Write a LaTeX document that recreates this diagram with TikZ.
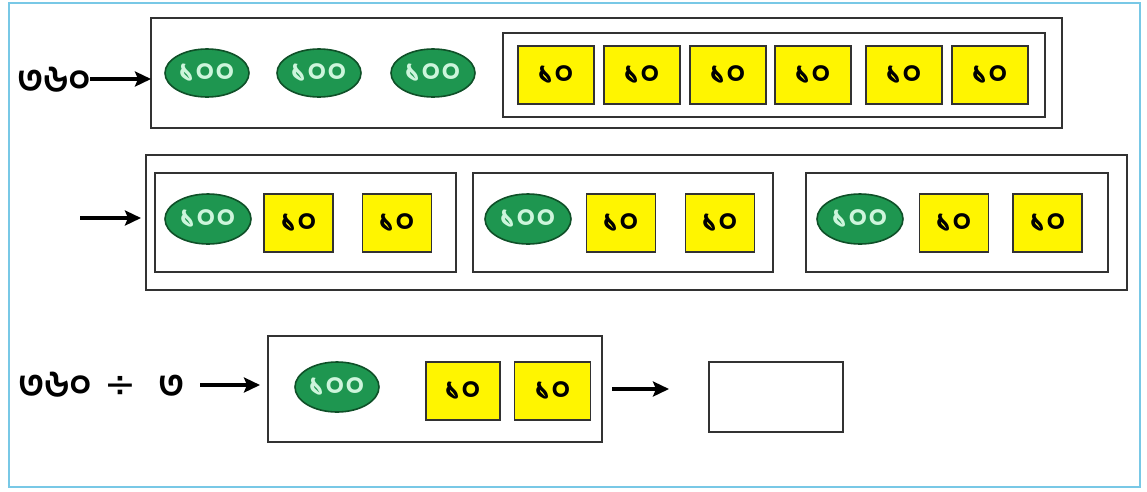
\documentclass[tikz,border=0pt]{standalone}
\usepackage{fontspec}
\newfontfamily\bn[Script=Bengali]{Hind Siliguri}
\newfontfamily\djv{DejaVu Sans}
\usetikzlibrary{arrows.meta,shapes.geometric}
\definecolor{frameblue}{RGB}{120,200,230}
\definecolor{coin}{RGB}{30,150,80}
\definecolor{coinedge}{RGB}{15,80,40}
\definecolor{cointext}{RGB}{205,245,220}
\definecolor{note}{RGB}{255,245,0}
\definecolor{boxline}{RGB}{50,50,50}
\tikzset{
  hundred/.style={ellipse, draw=coinedge, fill=coin, line width=1.6pt, minimum width=84pt, minimum height=48pt, inner sep=0pt, text=cointext, font=\bn\bfseries\fontsize{33}{34}\selectfont},
  ten/.style={rectangle, draw=boxline, fill=note, line width=1.6pt, minimum width=#1, minimum height=58pt, inner sep=0pt, font=\bn\bfseries\fontsize{33}{34}\selectfont},
  ten/.default=69pt,
  frame/.style={rectangle, draw=boxline, line width=1.8pt, inner sep=0pt, outer sep=0pt},
  lab/.style={inner sep=0pt, font=\bn\bfseries\fontsize{38}{40}\selectfont},
  arr/.style={-{Stealth[length=16pt,width=15pt,inset=3pt]}, line width=3.6pt},
}
\begin{document}
\begin{tikzpicture}[x=1pt,y=-1pt]
\useasboundingbox (0,0) rectangle (1147,491);
\draw[frameblue, line width=2.2pt] (9,3) rectangle (1140,487);
% row 1
\node[frame, minimum width=911pt, minimum height=110pt] (b1) at (606.5,73) {};
\node[frame, minimum width=542pt, minimum height=84pt] (i1) at (774,75) {};
\node[hundred] (h11) at (207,73) {১০০};
\node[hundred] (h12) at (319,73) {১০০};
\node[hundred] (h13) at (433,73) {১০০};
\node[ten=76pt] (t11) at (556,75) {১০};
\node[ten=76pt] (t12) at (642,75) {১০};
\node[ten=76pt] (t13) at (728,75) {১০};
\node[ten=76pt] (t14) at (813,75) {১০};
\node[ten=76pt] (t15) at (904,75) {১০};
\node[ten=76pt] (t16) at (990,75) {১০};
\node[lab, anchor=west] (l1) at (17,80) {৩৬০};
\coordinate (s1) at (90,79);
\draw[arr] (s1) -- (b1.west |- s1);
% row 2
\node[frame, minimum width=981pt, minimum height=135pt] (b2) at (636.5,222.5) {};
\node[frame, minimum width=301pt, minimum height=99pt] (g1) at (305.5,222.5) {};
\node[frame, minimum width=300pt, minimum height=99pt] (g2) at (623,222.5) {};
\node[frame, minimum width=302pt, minimum height=99pt] (g3) at (957,222.5) {};
\node[hundred, minimum width=86pt, minimum height=50pt] (h21) at (208,219) {১০০};
\node[ten] (t21) at (298.5,223) {১০};
\node[ten] (t22) at (397,223) {১০};
\node[hundred, minimum width=86pt, minimum height=50pt] (h22) at (528,219) {১০০};
\node[ten] (t23) at (621,223) {১০};
\node[ten] (t24) at (720,223) {১০};
\node[hundred, minimum width=86pt, minimum height=50pt] (h23) at (860,219) {১০০};
\node[ten] (t25) at (954,223) {১০};
\node[ten] (t26) at (1047.5,223) {১০};
\coordinate (s2) at (80,218);
\draw[arr, shorten >=5pt] (s2) -- (b2.west |- s2);
% row 3
\node[lab, anchor=west] (l3) at (18,385) {৩৬০\hspace{12pt}{\djv\mdseries ÷}\hspace{22pt}৩};
\node[frame, minimum width=334pt, minimum height=106pt] (b3) at (435,389) {};
\node[hundred, minimum width=84pt, minimum height=50pt] (h31) at (337,387) {১০০};
\node[ten=74pt] (t31) at (463,391) {১০};
\node[ten=76pt] (t32) at (552.5,391) {১০};
\node[frame, minimum width=134pt, minimum height=70pt] (ans) at (776,397) {};
\coordinate (s3) at (200,385);
\draw[arr, shorten >=8pt] (s3) -- (b3.west |- s3);
\draw[arr, shorten <=10pt, shorten >=40pt] (b3.east) -- (ans.west |- b3.east);
\end{tikzpicture}
\end{document}
